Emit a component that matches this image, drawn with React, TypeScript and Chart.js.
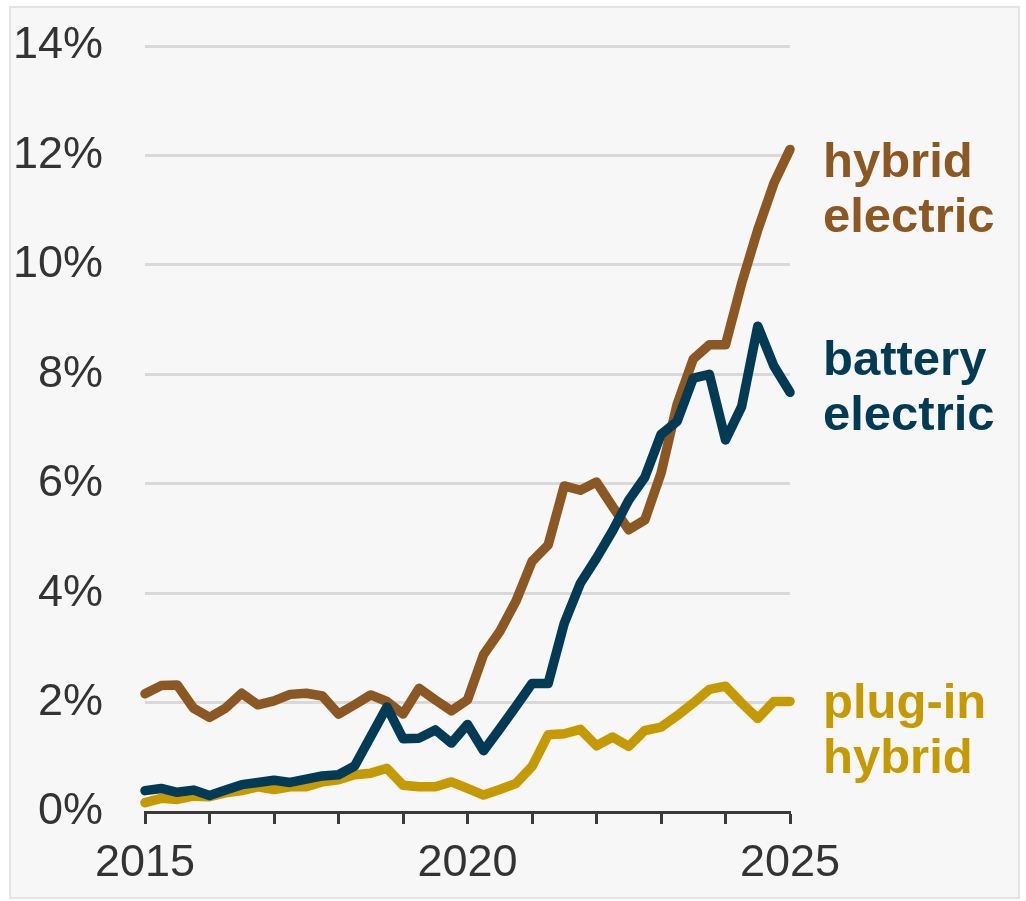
import React, { useEffect, useRef } from 'react';
import { Chart, registerables } from 'chart.js';

Chart.register(...registerables);

// Quarterly observations, 2015 Q1 .. 2025 Q1 (share of new vehicle sales, %)
const quarterStart = 2015;
const quarterCount = 41;
const quarters: number[] = Array.from({ length: quarterCount }, (_, i) => quarterStart + i / 4);

const hybridElectric: number[] = [
  2.16, 2.31, 2.32, 1.90, 1.73, 1.90, 2.17, 1.96, 2.03, 2.15,
  2.17, 2.12, 1.79, 1.96, 2.14, 2.02, 1.79, 2.26, 2.05, 1.85,
  2.05, 2.88, 3.30, 3.85, 4.58, 4.88, 5.96, 5.88, 6.03, 5.58,
  5.16, 5.34, 6.19, 7.45, 8.28, 8.54, 8.54, 9.66, 10.64, 11.49,
  12.11,
];

const batteryElectric: number[] = [
  0.39, 0.43, 0.36, 0.40, 0.30, 0.40, 0.50, 0.54, 0.58, 0.54,
  0.60, 0.66, 0.68, 0.84, 1.38, 1.92, 1.34, 1.35, 1.50, 1.26,
  1.60, 1.12, 1.52, 1.93, 2.35, 2.35, 3.45, 4.18, 4.64, 5.14,
  5.70, 6.12, 6.90, 7.14, 7.93, 8.00, 6.80, 7.41, 8.88, 8.15,
  7.67,
];

const pluginHybrid: number[] = [
  0.17, 0.25, 0.23, 0.29, 0.28, 0.35, 0.39, 0.46, 0.41, 0.46,
  0.46, 0.55, 0.59, 0.68, 0.71, 0.80, 0.49, 0.46, 0.46, 0.55,
  0.43, 0.31, 0.41, 0.52, 0.83, 1.41, 1.43, 1.51, 1.21, 1.37,
  1.20, 1.49, 1.55, 1.76, 1.99, 2.24, 2.30, 1.99, 1.71, 2.02,
  2.02,
];

const yearTickLabels: number[] = [2015, 2020, 2025];
const yTicks: number[] = [0, 2, 4, 6, 8, 10, 12, 14];

const seriesLabels: string[][] = [
  ['hybrid', 'electric'],
  ['battery', 'electric'],
  ['plug-in', 'hybrid'],
];
const seriesColors: string[] = ['#8B5722', '#003A54', '#C59A00'];
const labelCenters: number[] = [11.37, 7.75, 1.48];

const FONT = '"Liberation Sans", Arial, Helvetica, sans-serif';

const endLabelsPlugin = {
  id: 'endLabels',
  afterDatasetsDraw(chart: any) {
    const { ctx, chartArea, scales } = chart;
    const y = scales.y;
    ctx.save();
    ctx.font = `bold 49px ${FONT}`;
    ctx.textAlign = 'left';
    ctx.textBaseline = 'alphabetic';
    seriesLabels.forEach((lines, k) => {
      const cy = y.getPixelForValue(labelCenters[k]);
      ctx.fillStyle = seriesColors[k];
      lines.forEach((ln, j) => {
        ctx.fillText(ln, chartArea.right + 33, cy - 13 + j * 55);
      });
    });
    ctx.restore();
  },
};

export default function App() {
  const canvasRef = useRef<HTMLCanvasElement | null>(null);

  useEffect(() => {
    if (!canvasRef.current) return;
    const mk = (vals: number[]) => vals.map((v, i) => ({ x: quarters[i], y: v }));
    const chart = new Chart(canvasRef.current, {
      type: 'line',
      data: {
        datasets: [
          {
            label: 'battery electric',
            data: mk(batteryElectric),
            borderColor: seriesColors[1],
            order: 1,
          },
          {
            label: 'hybrid electric',
            data: mk(hybridElectric),
            borderColor: seriesColors[0],
            order: 2,
          },
          {
            label: 'plug-in hybrid',
            data: mk(pluginHybrid),
            borderColor: seriesColors[2],
            order: 3,
          },
        ].map((d) => ({
          ...d,
          borderWidth: 9.5,
          pointRadius: 0,
          pointHoverRadius: 0,
          tension: 0,
          fill: false,
          borderCapStyle: 'round' as const,
          borderJoinStyle: 'round' as const,
          clip: false as const,
        })),
      },
      options: {
        animation: false,
        responsive: false,
        devicePixelRatio: 1,
        layout: { padding: { left: 0, top: 46, right: 236, bottom: 0 } },
        plugins: {
          legend: { display: false },
          tooltip: { enabled: false },
        },
        scales: {
          x: {
            type: 'linear',
            min: 2015,
            max: 2025,
            afterFit: (s: any) => {
              s.height = 89;
              s.paddingLeft = 0;
              s.paddingRight = 0;
            },
            border: { display: true, color: '#3a3a3a', width: 3 },
            grid: {
              display: true,
              drawOnChartArea: false,
              drawTicks: true,
              tickLength: 12,
              tickWidth: 3,
              tickColor: '#3a3a3a',
              color: '#3a3a3a',
            },
            ticks: {
              stepSize: 1,
              autoSkip: false,
              maxRotation: 0,
              minRotation: 0,
              padding: 13,
              color: '#333333',
              font: { family: FONT, size: 45 },
              callback: (v: any) => (yearTickLabels.includes(Number(v)) ? String(v) : ''),
            },
          },
          y: {
            min: 0,
            max: 14,
            afterFit: (s: any) => {
              s.width = 145;
              s.paddingTop = 0;
              s.paddingBottom = 0;
            },
            afterBuildTicks: (s: any) => {
              s.ticks = yTicks.map((v) => ({ value: v }));
            },
            border: { display: false },
            grid: {
              color: (c: any) => (c.tick && c.tick.value === 0 ? 'rgba(0,0,0,0)' : '#d9d9d9'),
              lineWidth: 3,
              drawTicks: false,
            },
            ticks: {
              padding: 42,
              color: '#333333',
              font: { family: FONT, size: 45 },
              callback: (v: any) => `${v}%`,
            },
          },
        },
      },
      plugins: [endLabelsPlugin],
    });
    return () => chart.destroy();
  }, []);

  return (
    <div style={{ position: 'fixed', left: 0, top: 0, width: 1026, height: 901, background: '#ffffff' }}>
      <div
        style={{
          position: 'absolute',
          left: 9,
          top: 6,
          width: 1011,
          height: 893,
          boxSizing: 'border-box',
          background: '#f7f7f7',
          border: '2px solid #e4e4e4',
        }}
      />
      <canvas
        ref={canvasRef}
        width={1026}
        height={901}
        style={{ position: 'absolute', left: 0, top: 0, width: 1026, height: 901 }}
      />
    </div>
  );
}
